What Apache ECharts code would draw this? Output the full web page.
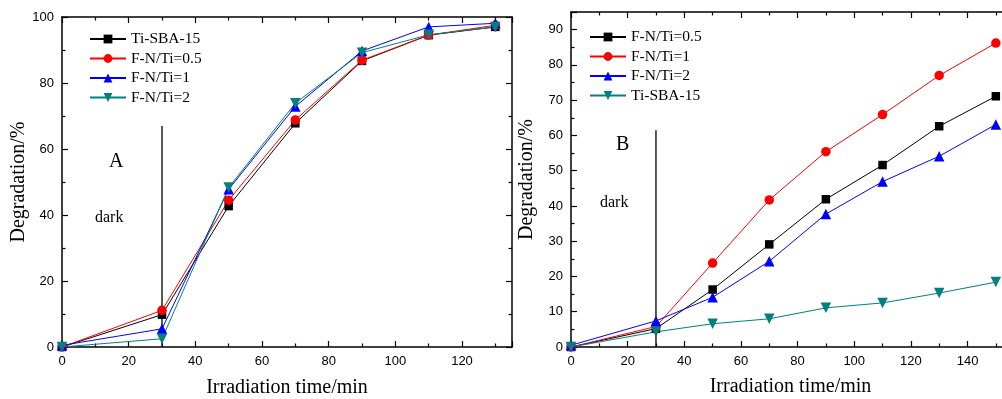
<!DOCTYPE html>
<html>
<head>
<meta charset="utf-8">
<script src="https://cdn.jsdelivr.net/npm/echarts@6/dist/echarts.min.js"></script>
<style>html,body{margin:0;padding:0;background:#fff}#c{width:1002px;height:399px}</style>
</head>
<body>
<div id="c"></div>
<script>
// Panel A
const timesA = [0, 30, 50, 70, 90, 110, 130];
const namesA = ['Ti-SBA-15', 'F-N/Ti=0.5', 'F-N/Ti=1', 'F-N/Ti=2'];
const tiSBA_A = [0, 9.8, 42.7, 67.8, 86.7, 94.5, 97.0];
const fn05_A = [0, 11.1, 44.5, 68.8, 86.9, 94.5, 97.5];
const fn1_A = [0.5, 5.5, 47.8, 72.9, 89.7, 97.0, 98.1];
const fn2_A = [0, 2.5, 48.3, 73.9, 89.2, 94.6, 97.0];
const darkLineA = [[30, 0], [30, 67]];

// Panel B
const timesB = [0, 30, 50, 70, 90, 110, 130, 150];
const namesB = ['F-N/Ti=0.5', 'F-N/Ti=1', 'F-N/Ti=2', 'Ti-SBA-15'];
const fn05_B = [0, 5.2, 16.3, 29.1, 41.9, 51.6, 62.6, 71.1];
const fn1_B = [0, 5.8, 23.8, 41.7, 55.4, 65.9, 77.0, 86.2];
const fn2_B = [0.5, 7.4, 14.1, 24.3, 37.7, 46.9, 54.1, 63.1];
const tiSBA_B = [0, 4.3, 6.6, 8.0, 11.1, 12.5, 15.3, 18.4];
const darkLineB = [[30, 0], [30, 61.5]];

const colors = {black: '#000000', red: '#ff0000', blue: '#0000ff', teal: '#008080'};
const serif = '"Liberation Serif", "Times New Roman", serif';
const sans = '"Liberation Sans", Arial, sans-serif';
const downTri = 'path://M0,0 L10,0 L5,9 Z';

function pair(xs, ys) { return xs.map((x, i) => [x, ys[i]]); }
// panel B series get a unique internal key so the two legends don't collide
function keyB(n) { return n + ' '; }

function mkSeries(name, xs, ys, color, symbol, size, axisIdx) {
  return {
    type: 'line', name: name, data: pair(xs, ys),
    xAxisIndex: axisIdx, yAxisIndex: axisIdx,
    symbol: symbol, symbolSize: size, showAllSymbol: true,
    itemStyle: {color: color}, lineStyle: {color: color, width: 1},
    animation: false, z: 5
  };
}

function axisBase(min, max, interval, showLabel, pos, gi) {
  return {
    type: 'value', gridIndex: gi, min: min, max: max, interval: interval, position: pos,
    axisLine: {show: true, onZero: false, lineStyle: {color: '#000', width: 1.5}},
    axisTick: {show: true, inside: true, length: 6, lineStyle: {color: '#000', width: 1.2}},
    minorTick: {show: true, splitNumber: 2, length: 3.5, lineStyle: {color: '#000', width: 1.2}},
    splitLine: {show: false},
    axisLabel: {show: showLabel, color: '#000', fontFamily: sans, fontSize: 13, margin: 8}
  };
}

const titleStyle = {fontFamily: serif, fontSize: 20, color: '#000'};

const xA = axisBase(0, 135, 20, true, 'bottom', 0);
xA.name = 'Irradiation time/min'; xA.nameLocation = 'middle'; xA.nameGap = 31;
xA.nameTextStyle = titleStyle;
xA.axisLabel.showMaxLabel = false;
const yA = axisBase(0, 100, 20, true, 'left', 0);
yA.name = 'Degradation/%'; yA.nameLocation = 'middle'; yA.nameGap = 32; yA.nameRotate = 90;
yA.nameTextStyle = titleStyle;
const xA2 = axisBase(0, 135, 20, false, 'top', 0);
const yA2 = axisBase(0, 100, 20, false, 'right', 0);

const xB = axisBase(0, 155, 20, true, 'bottom', 1);
xB.name = 'Irradiation time/min'; xB.nameLocation = 'middle'; xB.nameGap = 30;
xB.nameTextStyle = titleStyle;
xB.axisLabel.showMaxLabel = false;
const yB = axisBase(0, 95, 10, true, 'left', 1);
yB.name = 'Degradation/%'; yB.nameLocation = 'middle'; yB.nameGap = 34; yB.nameRotate = 90;
yB.nameTextStyle = titleStyle;
yB.axisLabel.showMaxLabel = false;
const xB2 = axisBase(0, 155, 20, false, 'top', 1);
const yB2 = axisBase(0, 95, 10, false, 'right', 1);

// axis order: x/y [0]=A main, [1]=A box, [2]=B main, [3]=B box
const series = [
  mkSeries(namesA[0], timesA, tiSBA_A, colors.black, 'rect', 8.5, 0),
  mkSeries(namesA[1], timesA, fn05_A, colors.red, 'circle', 9.5, 0),
  mkSeries(namesA[2], timesA, fn1_A, colors.blue, 'triangle', 10.5, 0),
  mkSeries(namesA[3], timesA, fn2_A, colors.teal, downTri, 10.5, 0),
  {type: 'line', data: darkLineA, xAxisIndex: 0, yAxisIndex: 0, symbol: 'none',
   lineStyle: {color: '#000', width: 1.3}, animation: false, z: 3, silent: true},
  mkSeries(keyB(namesB[0]), timesB, fn05_B, colors.black, 'rect', 8.5, 2),
  mkSeries(keyB(namesB[1]), timesB, fn1_B, colors.red, 'circle', 9.5, 2),
  mkSeries(keyB(namesB[2]), timesB, fn2_B, colors.blue, 'triangle', 10.5, 2),
  mkSeries(keyB(namesB[3]), timesB, tiSBA_B, colors.teal, downTri, 10.5, 2),
  {type: 'line', data: darkLineB, xAxisIndex: 2, yAxisIndex: 2, symbol: 'none',
   lineStyle: {color: '#000', width: 1.3}, animation: false, z: 3, silent: true}
];

const legendCommon = {
  orient: 'vertical', itemWidth: 36, itemHeight: 11, itemGap: 3.5, padding: 0,
  textStyle: {fontFamily: serif, fontSize: 15.5, color: '#000', lineHeight: 16},
  selectedMode: false,
  formatter: n => n.trim()
};

const chart = echarts.init(document.getElementById('c'), null, {renderer: 'canvas'});
chart.setOption({
  animation: false,
  backgroundColor: '#fff',
  grid: [
    {left: 62, top: 17, width: 450, height: 330, outerBoundsMode: 'none', containLabel: false},
    {left: 571, top: 12, width: 439, height: 335, outerBoundsMode: 'none', containLabel: false}
  ],
  xAxis: [xA, xA2, xB, xB2],
  yAxis: [yA, yA2, yB, yB2],
  legend: [
    Object.assign({}, legendCommon, {left: 89, top: 31, data: namesA}),
    Object.assign({}, legendCommon, {left: 589, top: 29, data: namesB.map(keyB)})
  ],
  series: series,
  graphic: [
    {type: 'text', left: 109, top: 152, style: {text: 'A', font: '20px ' + serif, fill: '#000'}},
    {type: 'text', left: 95, top: 210, style: {text: 'dark', font: '16px ' + serif, fill: '#000'}},
    {type: 'text', left: 616, top: 135, style: {text: 'B', font: '20px ' + serif, fill: '#000'}},
    {type: 'text', left: 600, top: 195, style: {text: 'dark', font: '16px ' + serif, fill: '#000'}}
  ]
});
</script>
</body>
</html>
